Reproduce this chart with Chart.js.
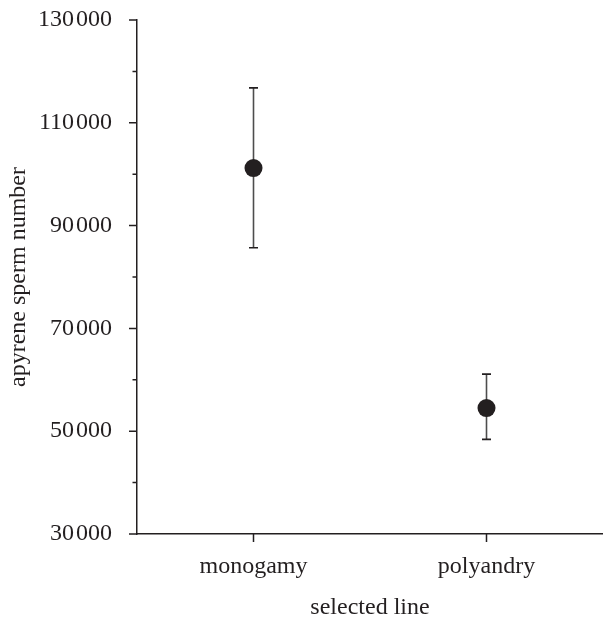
<!DOCTYPE html>
<html>
<head>
<meta charset="utf-8">
<script src="https://cdn.jsdelivr.net/npm/chart.js@4"></script>
<style>
  html, body { margin: 0; padding: 0; background: #ffffff; }
  #wrap { width: 603px; height: 622px; }
</style>
</head>
<body>
<div id="wrap"><canvas id="c" width="603" height="622"></canvas></div>
<script>
// ---- data ----
const categories = ['monogamy', 'polyandry'];
const means = [101200, 54500];
const upperErr = [116800, 61100];
const lowerErr = [85700, 48400];

// ---- axis ----
const yMin = 30000;
const yMax = 130000;
const yMajorStep = 20000;
const yMinorStep = 10000;
const xTitle = 'selected line';
const yTitle = 'apyrene sperm number';

const INK = '#231f20';
const FONT = { family: '"Liberation Serif", "Times New Roman", serif', size: 24 };

function fmt(v) {
  const s = String(Math.round(v));
  return s.length > 3 ? s.slice(0, s.length - 3) + '\u200A' + s.slice(s.length - 3) : s;
}

const errorBarsAndTicks = {
  id: 'errorBarsAndTicks',
  beforeDatasetsDraw(chart) {
    const ctx = chart.ctx;
    const xs = chart.scales.x, ys = chart.scales.y;
    ctx.save();
    ctx.lineWidth = 1.6;
    for (let i = 0; i < categories.length; i++) {
      const x = xs.getPixelForValue(i);
      const yt = ys.getPixelForValue(upperErr[i]);
      const yb = ys.getPixelForValue(lowerErr[i]);
      ctx.strokeStyle = '#4d4d4d';
      ctx.beginPath();
      ctx.moveTo(x, yt); ctx.lineTo(x, yb);
      ctx.stroke();
      ctx.strokeStyle = INK;
      ctx.beginPath();
      ctx.moveTo(x - 4.5, yt); ctx.lineTo(x + 4.5, yt);
      ctx.moveTo(x - 4.5, yb); ctx.lineTo(x + 4.5, yb);
      ctx.stroke();
    }
    ctx.restore();
  },
  afterDraw(chart) {
    const ctx = chart.ctx;
    const xs = chart.scales.x, ys = chart.scales.y;
    const area = chart.chartArea;
    ctx.save();
    ctx.strokeStyle = INK;
    ctx.lineWidth = 1.5;
    ctx.beginPath();
    for (let v = yMin; v <= yMax; v += yMinorStep) {
      const y = ys.getPixelForValue(v);
      const major = ((v - yMin) % yMajorStep) === 0;
      const len = major ? 8 : 4.5;
      ctx.moveTo(area.left - len, y); ctx.lineTo(area.left, y);
    }
    for (let i = 0; i < categories.length; i++) {
      const x = xs.getPixelForValue(i);
      ctx.moveTo(x, area.bottom); ctx.lineTo(x, area.bottom + 8);
    }
    ctx.stroke();
    ctx.restore();
  }
};

new Chart(document.getElementById('c'), {
  type: 'line',
  data: {
    labels: categories,
    datasets: [{
      data: means,
      showLine: false,
      clip: false,
      pointRadius: 9,
      pointHoverRadius: 9,
      pointBackgroundColor: INK,
      pointBorderColor: INK,
      pointBorderWidth: 0
    }]
  },
  plugins: [errorBarsAndTicks],
  options: {
    responsive: false,
    animation: false,
    devicePixelRatio: 1,
    layout: { autoPadding: false, padding: { top: 20, right: 0, left: 0, bottom: 0 } },
    plugins: { legend: { display: false }, tooltip: { enabled: false } },
    scales: {
      x: {
        type: 'category',
        offset: true,
        grid: { display: false, drawTicks: false, tickLength: 0 },
        border: { display: true, color: INK, width: 1.5 },
        ticks: { color: INK, font: FONT, padding: 18, maxRotation: 0 },
        title: { display: true, text: xTitle, color: INK, font: FONT, padding: { top: 0, bottom: 0 } },
        afterFit(scale) { scale.height = 88; scale.paddingLeft = 0; scale.paddingRight = 0; }
      },
      y: {
        min: yMin,
        max: yMax,
        grid: { display: false, drawTicks: false, tickLength: 0 },
        border: { display: true, color: INK, width: 1.5 },
        ticks: { stepSize: yMajorStep, color: INK, font: FONT, padding: 25, callback: (v) => fmt(v) },
        title: { display: true, text: yTitle, color: INK, font: FONT, padding: { top: 4, bottom: 0 } },
        afterFit(scale) { scale.width = 137; scale.paddingTop = 0; scale.paddingBottom = 0; }
      }
    }
  }
});
</script>
</body>
</html>
